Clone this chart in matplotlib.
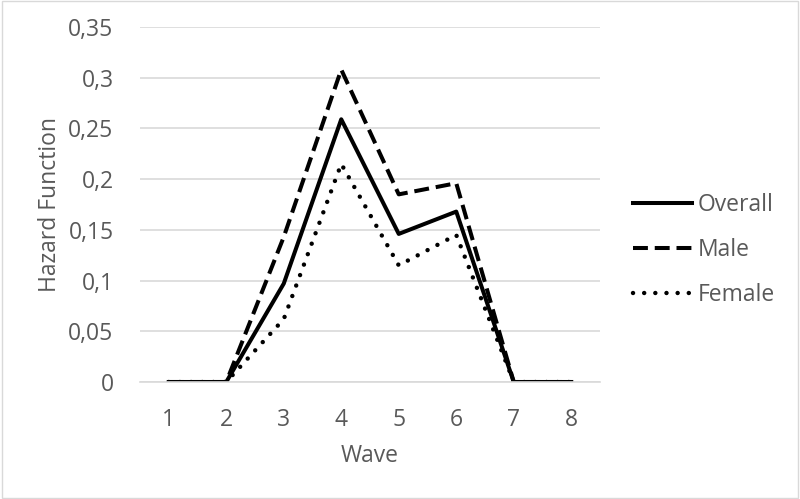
import matplotlib
matplotlib.use("Agg")
import matplotlib.pyplot as plt
from matplotlib.ticker import FuncFormatter

waves = [1, 2, 3, 4, 5, 6, 7, 8]
overall = [0, 0, 0.097, 0.259, 0.146, 0.168, 0, 0]
male = [0, 0, 0.143, 0.308, 0.185, 0.196, 0, 0]
female = [0, 0, 0.062, 0.215, 0.115, 0.145, 0, 0]
yticks = [0, 0.05, 0.1, 0.15, 0.2, 0.25, 0.3, 0.35]

plt.rcParams['font.family'] = ['Open Sans', 'DejaVu Sans']
gray = '#595959'
fs = 16.5

fig = plt.figure(figsize=(8, 4.99), dpi=100)
ax = fig.add_axes([140/800, 1-382/499, 460/800, 355/499])

lw = 2.9
ax.plot(waves, overall, color='black', lw=lw, ls='-', label='Overall')
ax.plot(waves, male, color='black', lw=lw, ls=(0, (3.7, 1.7)), label='Male')
ax.plot(waves, female, color='black', lw=lw + 0.3, ls=(0, (0.01, 2.5)), dash_capstyle='round', label='Female')

ax.set_xlim(0.5, 8.5)
ax.set_ylim(0, 0.35)
ax.set_yticks(yticks)
ax.set_xticks(waves)
ax.yaxis.set_major_formatter(FuncFormatter(lambda v, p: ('%g' % round(v, 2)).replace('.', ',')))
ax.grid(axis='y', color='#d9d9d9', lw=1.2)
ax.set_axisbelow(True)
for s in ['top', 'right', 'left']:
    ax.spines[s].set_visible(False)
ax.spines['bottom'].set_color('#d9d9d9')
ax.spines['bottom'].set_linewidth(1.2)
ax.tick_params(axis='both', length=0, labelsize=fs, colors=gray)
ax.tick_params(axis='y', pad=19)
ax.tick_params(axis='x', pad=19)
ax.set_xlabel('Wave', fontsize=fs, color=gray, labelpad=8)
ax.set_ylabel('Hazard Function', fontsize=fs, color=gray)
ax.yaxis.set_label_coords((62 - 140) / 460, 0.5)

leg = fig.legend(loc='center left', bbox_to_anchor=(612/800, 1-250/499), frameon=False,
                 fontsize=fs, handlelength=2.6, labelspacing=0.9, handletextpad=0.25)
for t in leg.get_texts():
    t.set_color(gray)

fig.patches.append(plt.Rectangle((0.002, 0.002), 0.996, 0.996, transform=fig.transFigure,
                                 fill=False, edgecolor='#d9d9d9', lw=1))
fig.savefig('out.png', dpi=100)
